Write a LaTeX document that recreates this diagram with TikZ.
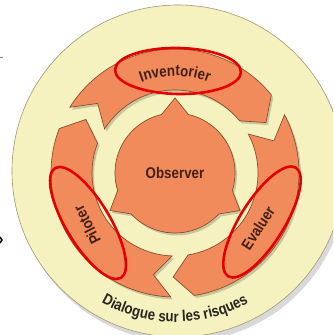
\documentclass[tikz,border=0pt]{standalone}
\usepackage{fontspec}
\newfontfamily\lblfont[FakeStretch=0.86]{Liberation Sans}
\usetikzlibrary{decorations.text}

\definecolor{paleyellow}{RGB}{246,242,192}
\definecolor{discedge}{RGB}{160,152,118}
\definecolor{ringorange}{RGB}{242,139,91}
\definecolor{ringedge}{RGB}{138,78,48}
\definecolor{labelbrown}{RGB}{66,32,22}
\definecolor{dialoguegray}{RGB}{40,36,30}
\definecolor{markred}{RGB}{228,0,0}

\tikzset{
  arrowpart/.style={fill=ringorange, draw=ringedge, line width=0.7pt, line join=miter},
  shadowpart/.style={fill=black, fill opacity=0.18, draw=none},
  marker/.style={draw=markred, line width=2.6pt},
  steplabel/.style={font=\lblfont\bfseries\fontsize{15.5}{15.5}\selectfont, text=labelbrown},
}

\begin{document}
\begin{tikzpicture}[x=1pt,y=1pt]
  \useasboundingbox (0,0) rectangle (333,335);
  \fill[white] (0,0) rectangle (333,335);
  \clip (0,0) rectangle (333,335);
  % edge marks
  \draw[gray, line width=0.8pt] (0,278) -- (2.5,278);
  \draw[black, line width=1.4pt] (0,98) -- (2,95) -- (0,92);
\begin{scope}[shift={(175,162)}]
  % Disc
  \fill[black, opacity=0.15] (6,-3) circle (166);
  \filldraw[fill=paleyellow, draw=discedge, line width=0.6pt] (3,2) circle (166);
  % Ring arrows, clockwise
  \foreach \a in {148,28,-92} {
    \foreach \dx/\dy/\sty in {2/-2.5/shadowpart, 0/0/arrowpart}
      \path[\sty, shift={(\dx,\dy)}] (\a:124) arc[start angle=\a, end angle=\a-109, radius=124]
        -- (\a-119:104) -- (\a-109:83) arc[start angle=\a-109, end angle=\a, radius=83]
        -- (\a-10:104) -- cycle;
  }
  % Observer
  \foreach \dx/\dy/\sty in {2/-2.5/shadowpart, 0/0/arrowpart}
    \path[\sty, shift={(\dx,\dy)}] (103:60) -- (90:75) -- (77:60)
      arc[start angle=77, end angle=-17, radius=60] -- (-30:75) -- (-43:60)
      arc[start angle=-43, end angle=-137, radius=60] -- (-150:75) -- (-163:60)
      arc[start angle=-163, end angle=-257, radius=60] -- cycle;
  % Labels
  \node[steplabel] (observer) at (0,0) {Observer};
  \node[steplabel, rotate=117] (piloter) at (-88,-52) {Piloter};
  \node[steplabel, rotate=57] (evaluer) at (83,-55) {Evaluer};
  \path[decorate, decoration={text along path, text align=center, text color=labelbrown,
      text={|\lblfont\bfseries\fontsize{15.5}{15.5}\selectfont|Inventorier}}]
    (150:97) arc[start angle=150, end angle=30, radius=97];
  \path[decorate, decoration={text along path, text align=center, text color=dialoguegray,
      text={|\lblfont\bfseries\fontsize{15.5}{15.5}\selectfont|Dialogue sur les risques}}]
    (200:149) arc[start angle=200, end angle=340, radius=149];
  % Red marks
  \draw[marker, shift={(3,102)}, rotate=-1] (0,0) ellipse[x radius=63, y radius=23];
  \draw[marker, shift={(-87,-50)}, rotate=-59] (0,0) ellipse[x radius=64, y radius=22];
  \draw[marker, shift={(87,-49)}, rotate=58] (0,0) ellipse[x radius=64, y radius=22];
\end{scope}
\end{tikzpicture}
\end{document}
